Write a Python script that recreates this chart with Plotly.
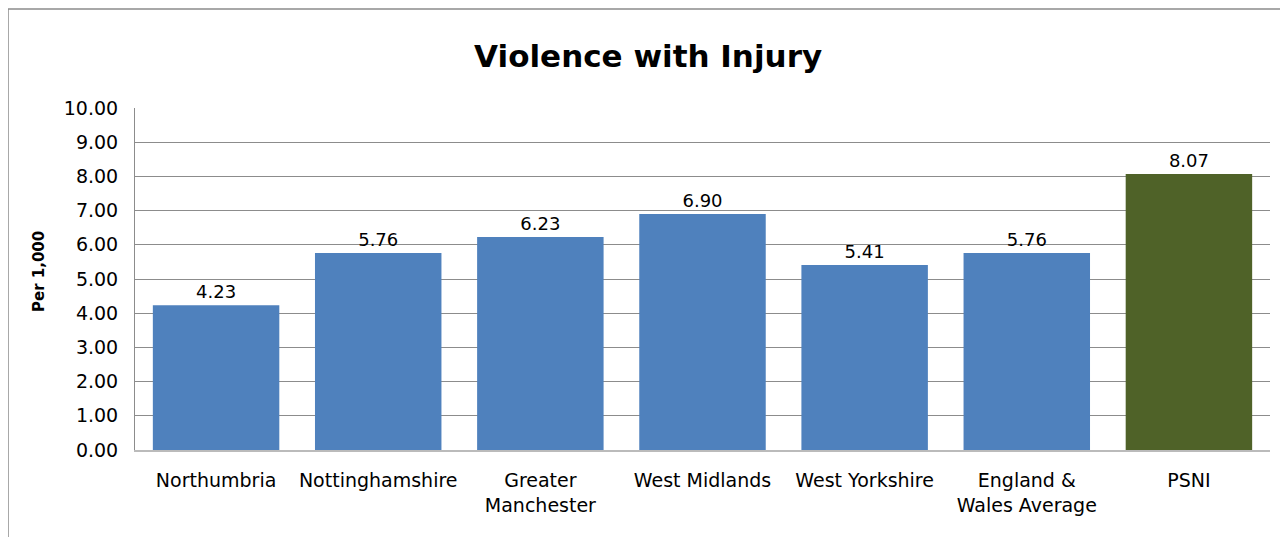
import plotly.graph_objects as go

categories = ["Northumbria", "Nottinghamshire", "Greater<br>Manchester", "West Midlands",
              "West Yorkshire", "England &<br>Wales Average", "PSNI"]
values = [4.23, 5.76, 6.23, 6.90, 5.41, 5.76, 8.07]
bar_colors = ["#4F81BD"] * 6 + ["#4F6228"]
y_ticks = [0, 1, 2, 3, 4, 5, 6, 7, 8, 9, 10]

FONT = "'DejaVu Sans', sans-serif"

fig = go.Figure(go.Bar(
    x=categories, y=values, marker=dict(color=bar_colors, line=dict(width=0)),
    texttemplate="%{y:.2f}", textposition="outside", cliponaxis=False,
    textfont=dict(size=18, color="#000000", family=FONT),
))

# page body adds an 8px offset; margins compensate
fig.update_layout(
    width=1288, height=537,
    margin=dict(l=127, r=26, t=100, b=95),
    paper_bgcolor="white", plot_bgcolor="white",
    bargap=0.22,
    showlegend=False,
    title=dict(text="<b>Violence with Injury</b>", x=0.497, xanchor="center",
               y=0.91, yanchor="middle",
               font=dict(size=31, color="#000000", family=FONT)),
    font=dict(family=FONT, color="#000000"),
    xaxis=dict(showgrid=False, showline=True, linecolor="#BBBBBB", linewidth=2,
               tickfont=dict(size=19, family=FONT, color="#000000"),
               ticks="", ticklabelstandoff=12),
    yaxis=dict(range=[0, 10], tickvals=y_ticks, tickformat=".2f",
               showgrid=True, gridcolor="#8C8C8C", gridwidth=1,
               showline=True, linecolor="#8C8C8C", linewidth=1,
               zeroline=False,
               tickfont=dict(size=19, family=FONT, color="#000000"),
               ticks="", ticklabelstandoff=12),
    annotations=[dict(text="<b>Per 1,000</b>", textangle=-90, showarrow=False,
                      xref="paper", yref="paper", x=(39 - 135) / 1135,
                      y=(450 - 272) / 342, xanchor="center", yanchor="middle",
                      font=dict(size=15, family=FONT, color="#000000"))],
    shapes=[dict(type="rect", xref="paper", yref="paper",
                 x0=(0 - 127) / 1135, x1=(1273 - 127) / 1135,
                 y0=-0.4, y1=(442 - 1) / 342,
                 line=dict(color="#8C8C8C", width=1.5), fillcolor="rgba(0,0,0,0)",
                 layer="below")],
)

fig.write_html("out.html")
